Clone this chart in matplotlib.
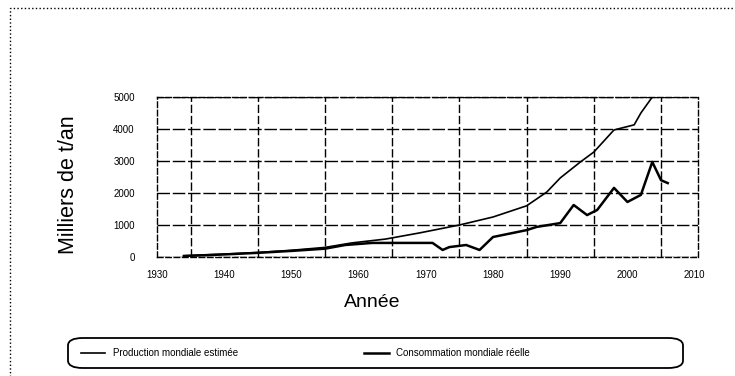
import matplotlib.pyplot as plt
from matplotlib.patches import Rectangle, FancyBboxPatch
import numpy as np

plt.rcParams['font.family'] = ['Liberation Sans', 'DejaVu Sans']

# series (thousands of t per year)
years_prod = [1934, 1940, 1945, 1950, 1955, 1959, 1964, 1969, 1975, 1980, 1985,
              1988, 1990, 1993, 1995, 1998, 2001, 2002, 2003.7, 2004.5]
prod = [40, 90, 140, 210, 300, 440, 560, 750, 1000, 1250, 1600,
        2030, 2470, 2970, 3280, 3970, 4130, 4500, 5000, 5300]

years_cons = [1934, 1940, 1945, 1950, 1955, 1958, 1962, 1967, 1971, 1972.5, 1973.5,
              1976, 1978, 1980, 1985, 1986.5, 1990, 1992, 1994, 1995.5, 1998,
              2000, 2002, 2003.7, 2005, 2006]
cons = [30, 80, 130, 190, 260, 375, 440, 440, 440, 220, 310,
        375, 220, 625, 840, 940, 1060, 1625, 1310, 1470, 2160,
        1720, 1940, 2970, 2400, 2310]

label_prod = "Production mondiale estimée"
label_cons = "Consommation mondiale réelle"
x_ticks = list(range(1930, 2011, 10))
y_ticks = [0, 1000, 2000, 3000, 4000, 5000]

fig = plt.figure(figsize=(7.35, 3.76), dpi=100)
ax = fig.add_axes([157/735, 1-257/376, 541/735, 160/376])

ax.plot(years_prod, prod, color='black', lw=1.2, label=label_prod)
ax.plot(years_cons, cons, color='black', lw=1.8, label=label_cons)

ax.set_xlim(1930, 2010.5)
ax.set_ylim(0, 5000)
ax.set_xticks(x_ticks)
ax.set_xticks([y + 5 for y in x_ticks[:-1]], minor=True)
ax.set_yticks(y_ticks)
ax.tick_params(axis='both', which='both', length=0, labelsize=7)
ax.tick_params(axis='y', pad=16)
ax.tick_params(axis='x', pad=9)
ax.tick_params(axis='x', which='minor', labelbottom=False)
ax.grid(axis='x', which='minor', color='black', lw=1.0, ls=(0, (6, 2)))
ax.grid(axis='y', which='major', color='black', lw=1.0, ls=(0, (9, 2)))
for s in ax.spines.values():
    s.set_linestyle((0, (4, 2)))
    s.set_linewidth(1.0)

ax.set_ylabel("Milliers de t/an", fontsize=15.5)
ax.yaxis.set_label_coords((79 - 157) / 541, 0.45)
ax.set_xlabel("Année", fontsize=14)
ax.xaxis.set_label_coords((372 - 157) / 541, -37 / 160)

# legend: entries sit side by side inside a rounded box
leg = fig.legend(loc='center left', bbox_to_anchor=(72/735, 1-353/376),
                 ncol=2, fontsize=7, frameon=False, handlelength=2.5,
                 columnspacing=13)
fig.add_artist(FancyBboxPatch((68/735, 1-368/376), 615/735, 30/376,
                              boxstyle="round,pad=0,rounding_size=0.02",
                              transform=fig.transFigure, fill=False,
                              ec='black', lw=1.3))

# dotted outer frame of the scanned page
fig.add_artist(Rectangle((10/735, -0.02), 1.0, 1-8/376+0.02, transform=fig.transFigure,
                         fill=False, ls=':', lw=1.0, color='black'))

fig.savefig("out.png", dpi=100)
